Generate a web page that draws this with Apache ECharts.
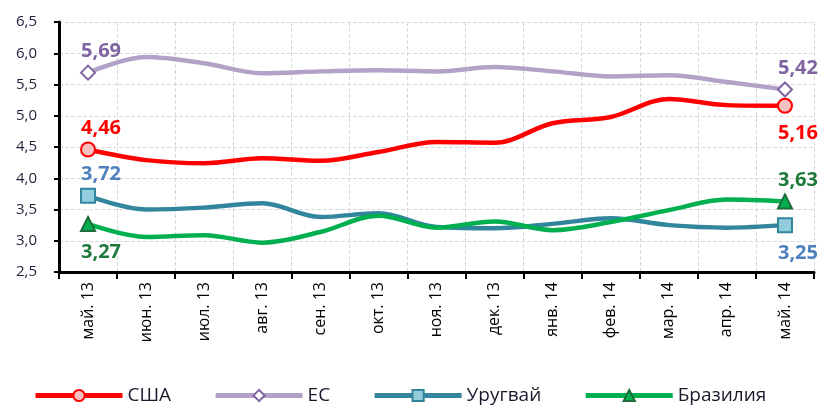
<!doctype html>
<html lang="ru">
<head>
    <meta charset="UTF-8">
    <title>Chart</title>
    <style>
        html, body { margin: 0; padding: 0; background: #fff; }
        #main { width: 826px; height: 408px; }
    </style>
</head>
<body>
<div id="main"></div>
<script type="text/javascript" src="https://cdn.jsdelivr.net/npm/echarts@6/dist/echarts.min.js"></script>
<script type="text/javascript">
    // месяцы по оси X
    let months = ['май. 13', 'июн. 13', 'июл. 13', 'авг. 13', 'сен. 13', 'окт. 13', 'ноя. 13',
        'дек. 13', 'янв. 14', 'фев. 14', 'мар. 14', 'апр. 14', 'май. 14'];
    let usa = [4.46, 4.29, 4.24, 4.32, 4.28, 4.42, 4.58, 4.57, 4.88, 4.98, 5.27, 5.17, 5.16];
    let eu = [5.69, 5.94, 5.84, 5.68, 5.71, 5.73, 5.71, 5.78, 5.71, 5.63, 5.65, 5.54, 5.42];
    let uruguay = [3.72, 3.50, 3.53, 3.60, 3.38, 3.44, 3.22, 3.20, 3.27, 3.36, 3.25, 3.21, 3.25];
    let brazil = [3.27, 3.06, 3.09, 2.97, 3.14, 3.40, 3.21, 3.31, 3.17, 3.30, 3.49, 3.66, 3.63];
    let yTicks = [2.5, 3.0, 3.5, 4.0, 4.5, 5.0, 5.5, 6.0, 6.5];

    let myChart = echarts.init(document.getElementById('main'));
    let fontName = '"Open Sans", "Liberation Sans", Arial, sans-serif';

    function fmt(v) {
        return String(v.toFixed(2)).replace('.', ',');
    }

    // только первая и последняя точки с маркером и подписью
    function build(arr, firstPos, lastPos, labelColor) {
        return arr.map(function (v, i) {
            if (i == 0 || i == arr.length - 1) {
                let pos = i == 0 ? firstPos : lastPos;
                return {
                    value: v,
                    label: {
                        show: true,
                        position: pos,
                        distance: pos == 'bottom' ? 10 : 3,
                        offset: [13, 0],
                        formatter: function (p) { return fmt(p.value); },
                        color: labelColor,
                        fontSize: 20,
                        fontWeight: 'bold',
                        fontFamily: fontName
                    }
                };
            }
            return {value: v, symbol: 'none'};
        });
    }

    function line(name, arr, color, symbol, size, fill, stroke, firstPos, lastPos, labelColor) {
        return {
            name: name,
            type: 'line',
            smooth: 0.35,
            data: build(arr, firstPos, lastPos, labelColor),
            symbol: symbol,
            symbolSize: size,
            showAllSymbol: true,
            lineStyle: {color: color, width: 4.5},
            itemStyle: {color: fill, borderColor: stroke, borderWidth: 2},
            emphasis: {disabled: true}
        };
    }

    let option = {
        backgroundColor: '#fff',
        animation: false,
        grid: {left: 59, right: 12, top: 22, bottom: 136},
        legend: {
            top: 381,
            left: 28,
            itemWidth: 87,
            itemHeight: 14,
            itemGap: 42,
            lineStyle: {width: 5},
            textStyle: {fontSize: 19, color: '#1a1a2e', fontFamily: fontName},
            data: ['США', 'ЕС', 'Уругвай', 'Бразилия']
        },
        xAxis: {
            type: 'category',
            data: months,
            boundaryGap: true,
            axisLine: {lineStyle: {color: '#000', width: 3}},
            axisTick: {show: true, length: 7, lineStyle: {color: '#000', width: 2}},
            axisLabel: {rotate: 90, margin: 10, fontSize: 16, color: '#000', fontFamily: fontName, interval: 0},
            splitLine: {show: true, interval: 0, lineStyle: {color: '#d9d9d9', type: 'dashed', width: 1}}
        },
        yAxis: {
            type: 'value',
            min: yTicks[0],
            max: yTicks[yTicks.length - 1],
            interval: 0.5,
            axisLine: {show: true, lineStyle: {color: '#000', width: 3}},
            axisTick: {show: true, length: 5, lineStyle: {color: '#000', width: 2}},
            axisLabel: {
                margin: 22, fontSize: 15, color: '#1f1f3a', fontFamily: fontName,
                formatter: function (v) { return v.toFixed(1).replace('.', ','); }
            },
            splitLine: {show: true, lineStyle: {color: '#d9d9d9', type: 'dashed', width: 1}}
        },
        series: [
            line('США', usa, '#ff0000', 'circle', 14, '#f8c0c0', '#ff0000', 'top', 'bottom', '#ff0000'),
            line('ЕС', eu, '#b3a2c7', 'diamond', 14, '#ffffff', '#8064a2', 'top', 'top', '#8064a2'),
            line('Уругвай', uruguay, '#31859c', 'rect', 14, '#93cddd', '#31859c', 'top', 'bottom', '#4f81bd'),
            line('Бразилия', brazil, '#00b050', 'triangle', 14, '#00b050', '#1d6b3a', 'bottom', 'top', '#1e7b3c')
        ]
    };
    myChart.setOption(option, true);
</script>
</body>
</html>
